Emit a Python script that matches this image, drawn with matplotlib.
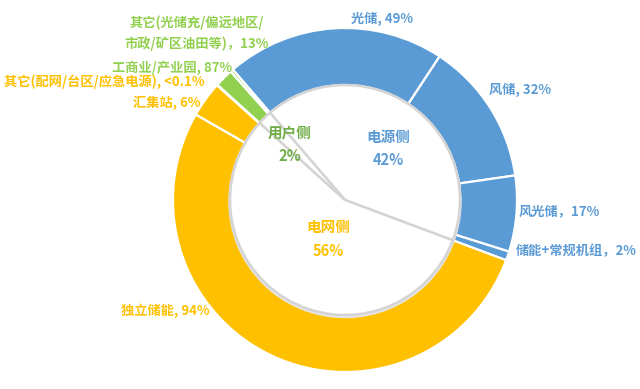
import numpy as np
import matplotlib.pyplot as plt

plt.rcParams['font.family'] = ['Noto Sans CJK SC', 'DejaVu Sans']

# inner pie: share of each side
sides = ["电源侧", "电网侧", "用户侧"]
side_pct = [42, 56, 2]

# outer ring: breakdown inside each side (percent of that side)
source_names = ["光储", "风储", "风光储", "储能+常规机组"]
source_pct = [49, 32, 17, 2]
grid_names = ["独立储能", "汇集站", "其它(配网/台区/应急电源)"]
grid_pct = [94, 6, 0.1]
user_names = ["工商业/产业园", "其它(光储充/偏远地区/市政/矿区油田等)"]
user_pct = [87, 13]

blue = "#5B9BD5"
yellow = "#FFC000"
green = "#92D050"

outer_vals = []
outer_cols = []
for total, parts, col in [(side_pct[0], source_pct, blue),
                          (side_pct[1], grid_pct, yellow),
                          (side_pct[2], user_pct, green)]:
    s = sum(parts)
    outer_vals += [total * p / s for p in parts]
    outer_cols += [col] * len(parts)

fig = plt.figure(figsize=(6.4, 3.89), dpi=100)
ax = fig.add_axes([0, 0, 1, 1])

cx, cy = 345, 389 - 200
start = 130.7

ax.pie(outer_vals, colors=outer_cols, radius=172, center=(cx, cy),
       startangle=start, counterclock=False,
       wedgeprops=dict(width=57, edgecolor="white", linewidth=1.6))

# soft shadow ring around the inner pie
ax.add_patch(plt.Circle((cx, cy - 1.5), 116, color="#E6E6E6", zorder=2))
ax.pie(side_pct, colors=["white"] * 3, radius=115, center=(cx, cy),
       startangle=start, counterclock=False,
       wedgeprops=dict(edgecolor="#D4D4D4", linewidth=1.8, zorder=3))
for w in ax.patches[-3:]:
    w.set_zorder(3)

ax.set_xlim(0, 640)
ax.set_ylim(0, 389)
ax.set_aspect("auto")
ax.axis("off")


def lab(x, y, s, c, size=9.5):
    ax.text(x, 389 - y, s, color=c, fontsize=size, fontweight="bold",
            ha="center", va="center", zorder=5)


# outer labels
lab(382, 19, "光储, 49%", blue)
lab(520, 90, "风储, 32%", blue)
lab(559, 211, "风光储，17%", blue)
lab(576, 251, "储能+常规机组，2%", blue)
lab(165, 311, "独立储能, 94%", yellow)
lab(167, 103, "汇集站, 6%", yellow)
lab(104, 82, "其它(配网/台区/应急电源), <0.1%", yellow)
lab(172, 68, "工商业/产业园, 87%", green)
lab(197, 23, "其它(光储充/偏远地区/", green)
lab(197, 44, "市政/矿区油田等)，13%", green)

# inner labels
lab(388, 137, "电源侧", blue, 10.5)
lab(388, 160, "42%", blue, 10.5)
lab(328, 227, "电网侧", yellow, 10.5)
lab(328, 251, "56%", yellow, 10.5)
lab(290, 132, "用户侧", "#70AD47", 10.5)
lab(290, 156, "2%", "#70AD47", 10.5)

fig.savefig("out.png", dpi=100)
